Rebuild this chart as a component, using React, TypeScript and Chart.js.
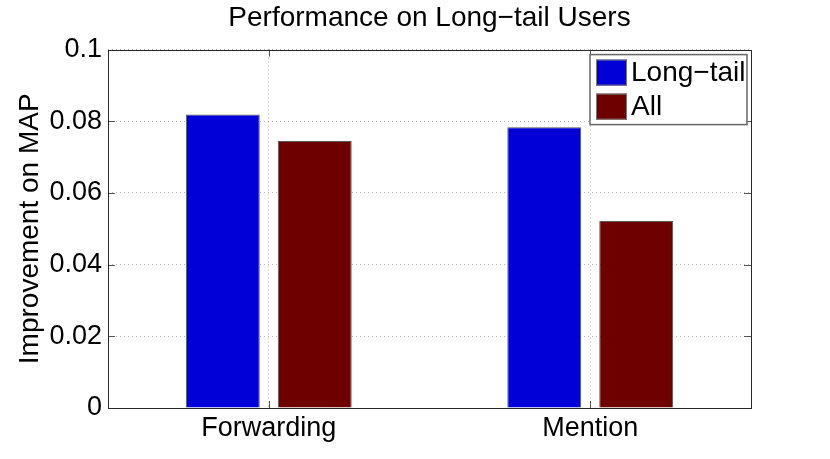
import { useEffect, useRef } from "react"
import { Chart, registerables } from "chart.js"

Chart.register(...registerables)

const categories = ["Forwarding", "Mention"]
const seriesNames = ["Long−tail", "All"]
const longTailValues = [0.0819, 0.0783]
const allValues = [0.0745, 0.0522]
const yTicks = [0, 0.02, 0.04, 0.06, 0.08, 0.1]

const FONT = "'Liberation Sans', Arial, Helvetica, sans-serif"
const BLUE = "rgb(0, 0, 215)"
const DARK_RED = "rgb(110, 0, 0)"

// box around the plot with MATLAB style inward ticks
const framePlugin = {
  id: "frame",
  afterDatasetsDraw(chart: any) {
    const { ctx, chartArea } = chart
    const { left, right, top, bottom } = chartArea
    ctx.save()
    ctx.strokeStyle = "#555"
    ctx.lineWidth = 1
    const tick = 7
    const y = chart.scales.y
    yTicks.forEach((v) => {
      const py = Math.round(y.getPixelForValue(v)) + 0.5
      ctx.beginPath()
      ctx.moveTo(left, py)
      ctx.lineTo(left + tick, py)
      ctx.moveTo(right, py)
      ctx.lineTo(right - tick, py)
      ctx.stroke()
    })
    const x = chart.scales.x
    categories.forEach((_, i) => {
      const px = Math.round(x.getPixelForValue(i)) + 0.5
      ctx.beginPath()
      ctx.moveTo(px, top)
      ctx.lineTo(px, top + tick)
      ctx.moveTo(px, bottom)
      ctx.lineTo(px, bottom - tick)
      ctx.stroke()
    })
    ctx.strokeStyle = "#2a2a2a"
    ctx.strokeRect(Math.round(left) + 0.5, Math.round(top) + 0.5, Math.round(right - left), Math.round(bottom - top))
    ctx.restore()
  },
}

// legend drawn inside the plot, top right
const insideLegend = {
  id: "insideLegend",
  afterDraw(chart: any) {
    const { ctx, chartArea } = chart
    const boxRight = chartArea.right - 4
    const boxTop = chartArea.top + 5
    const boxW = 157
    const boxH = 70
    const boxLeft = boxRight - boxW
    ctx.save()
    ctx.fillStyle = "#fff"
    ctx.fillRect(boxLeft, boxTop, boxW, boxH)
    ctx.strokeStyle = "#666"
    ctx.lineWidth = 1.5
    ctx.strokeRect(boxLeft, boxTop, boxW, boxH)
    ctx.font = `28px ${FONT}`
    ctx.textBaseline = "middle"
    ctx.textAlign = "left"
    chart.data.datasets.forEach((ds: any, i: number) => {
      const cy = boxTop + 18 + i * 34
      ctx.fillStyle = ds.backgroundColor
      ctx.fillRect(boxLeft + 6, cy - 13, 31, 26)
      ctx.strokeStyle = "#777"
      ctx.lineWidth = 1
      ctx.strokeRect(boxLeft + 6.5, cy - 12.5, 30, 25)
      ctx.fillStyle = "#000"
      ctx.fillText(ds.label, boxLeft + 41, cy + 1)
    })
    ctx.restore()
  },
}

export default function App() {
  const canvasRef = useRef<HTMLCanvasElement>(null)
  const chartRef = useRef<Chart | null>(null)

  useEffect(() => {
    if (!canvasRef.current) return
    if (chartRef.current) chartRef.current.destroy()

    chartRef.current = new Chart(canvasRef.current, {
      type: "bar",
      data: {
        labels: categories,
        datasets: [
          {
            label: seriesNames[0],
            data: longTailValues,
            backgroundColor: BLUE,
            borderColor: "#555",
            borderWidth: 1,
            categoryPercentage: 0.572,
            barPercentage: 0.804,
          },
          {
            label: seriesNames[1],
            data: allValues,
            backgroundColor: DARK_RED,
            borderColor: "#555",
            borderWidth: 1,
            categoryPercentage: 0.572,
            barPercentage: 0.804,
          },
        ],
      },
      options: {
        responsive: false,
        animation: false,
        devicePixelRatio: 1,
        layout: { padding: { left: 0, right: 79, top: 0, bottom: 0 } },
        plugins: {
          legend: { display: false },
          tooltip: { enabled: false },
          title: {
            display: true,
            text: "Performance on Long−tail Users",
            color: "#000",
            fullSize: false,
            font: { family: FONT, size: 28, weight: "normal" },
            padding: { top: 1, bottom: 15 },
          },
        },
        scales: {
          x: {
            offset: true,
            grid: {
              offset: false,
              drawTicks: false,
              color: "rgba(0,0,0,0.3)",
              lineWidth: 1,
            },
            border: { display: false, dash: [1, 3] },
            ticks: {
              color: "#000",
              padding: 4,
              font: { family: FONT, size: 27 },
              maxRotation: 0,
            },
            afterFit: (scale: any) => {
              scale.height = 51
            },
          },
          y: {
            min: 0,
            max: 0.1,
            grid: {
              drawTicks: false,
              color: "rgba(0,0,0,0.3)",
              lineWidth: 1,
            },
            border: { display: false, dash: [1, 3] },
            afterBuildTicks: (scale: any) => {
              scale.ticks = yTicks.map((v) => ({ value: v }))
            },
            ticks: {
              color: "#000",
              padding: 6,
              font: { family: FONT, size: 27 },
              callback: (v: any) => String(Number(Number(v).toFixed(2))),
            },
            title: {
              display: true,
              text: "Improvement on MAP",
              color: "#000",
              font: { family: FONT, size: 28 },
              padding: { top: 13, bottom: 0 },
            },
            afterFit: (scale: any) => {
              scale.width = 108
            },
          },
        },
      },
      plugins: [framePlugin, insideLegend],
    })

    return () => {
      if (chartRef.current) {
        chartRef.current.destroy()
        chartRef.current = null
      }
    }
  }, [])

  return (
    <div style={{ position: "fixed", left: 0, top: 0, width: 830, height: 459, background: "#fff" }}>
      <canvas ref={canvasRef} width={830} height={459}></canvas>
    </div>
  )
}
